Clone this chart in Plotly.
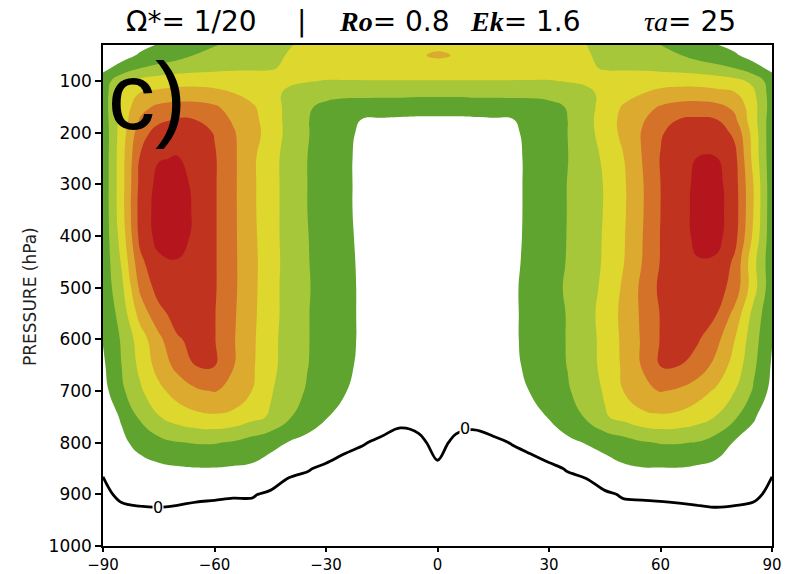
import plotly.graph_objects as go

# Zonal-mean zonal wind (m/s) on a latitude / pressure grid
lat = list(range(-90, 91, 5))
pressure = [30, 50, 75, 100, 125, 150, 175, 200, 250, 300, 350, 400, 450,
            500, 550, 600, 650, 700, 750, 800, 850, 900, 950, 1000]

# one row per pressure level, columns run from 90S to 90N
u_p030 = [2, 5, 8, 10.5, 13, 16, 19.5, 22, 24.5, 27, 29.5, 31.5, 33, 34, 35, 36, 37, 38, 38.5,
          38, 37, 36, 35, 34, 33, 31.5, 30.1, 27.5, 25, 22.5, 20, 16.5, 13, 10.3, 8, 5, 2]
u_p050 = [3, 7, 11, 14, 17, 20.5, 23, 25, 26.5, 28, 30.5, 33, 35, 36, 37, 38, 38.5, 39.3, 41,
          39.6, 38.5, 38, 37, 36, 35, 33, 30.8, 28, 26.5, 25, 23, 20.5, 17, 14, 11, 7, 3]
u_p075 = [8, 13, 20, 23, 25, 26.5, 27.5, 28.5, 29, 29.5, 31, 33.5, 35, 35.5, 36, 36.5, 36.5, 37, 37,
          37, 36.5, 36.5, 36, 35.5, 35, 33.5, 31, 29.5, 29, 28.5, 27.5, 26.5, 25, 23, 20, 13, 8]
u_p100 = [14, 28, 33, 35, 36.5, 37, 37, 36, 34.5, 33, 31.5, 30.5, 29.5, 29.5, 29.5, 29.5, 29.5, 29.5, 29.5,
          29.5, 29.5, 29.5, 29.5, 29.5, 29.5, 30.5, 31.5, 33, 34.5, 36, 37, 37, 36.5, 35, 33, 28, 14]
u_p125 = [15, 32, 41, 43, 44, 44, 42.5, 40.5, 37, 33, 28, 24, 22.5, 22, 22, 22, 22, 21.5, 21.5,
          21.5, 22, 22, 22, 22, 22.5, 24, 27.5, 32.5, 36.5, 40, 42.5, 44, 44.5, 43.5, 41.5, 32, 15]
u_p150 = [15, 33, 47, 52, 54, 54, 51.5, 46, 41.5, 35, 27, 21, 18, 16, 15.5, 15, 15, 15, 15,
          15, 15, 15, 15.5, 16, 17.5, 20.5, 26, 34, 41, 46, 51, 54, 54.5, 53, 48, 34, 15]
u_p175 = [14, 34, 51, 58, 61, 60, 55, 49, 43, 35.5, 27, 20.5, 15.5, 12.5, 9.5, 9, 8.5, 8, 8,
          8, 8.5, 9, 9.5, 12.5, 15.5, 20, 26.5, 35, 42.5, 49, 55, 60.5, 61.5, 60.5, 52, 34, 14]
u_p200 = [13, 35, 56, 64, 66, 64, 59.5, 51, 44, 36, 27, 20.5, 16, 12, 8.5, 6.5, 6, 5.5, 5.5,
          5.5, 6, 6.5, 8.5, 12, 15.5, 20, 26.5, 34, 42.5, 50.5, 59, 64, 66.5, 65, 58, 36, 13]
u_p250 = [13, 36, 61, 69.5, 70.5, 67, 61, 52, 42, 34, 26, 20, 15.5, 11.5, 8, 6, 5.5, 5, 5,
          5, 5.5, 6, 8, 11.5, 15, 19.8, 25.5, 31.5, 39.5, 50, 60.5, 66.5, 70.3, 70.5, 63, 37, 13]
u_p300 = [13, 36, 63, 73, 73.5, 68, 61, 52, 42, 34, 26, 20, 15.5, 11.5, 8, 6, 5, 4.5, 4.5,
          4.5, 5, 6, 8, 11.5, 15.5, 20.2, 25.5, 30.5, 38.5, 49, 60, 66.5, 72, 73.5, 64, 40, 13]
u_p350 = [13, 36, 64, 74, 74.5, 68.5, 61, 52, 42, 34, 26, 20, 15.5, 11.5, 8, 6, 5, 4.5, 4.5,
          4.5, 5, 6, 8, 11.5, 15.5, 20.2, 25.5, 30.5, 38.5, 49, 60, 66.5, 72.5, 74, 64.5, 40, 13]
u_p400 = [13, 34, 63, 73.5, 74, 68, 61, 52, 42.5, 34, 26, 20.3, 15.8, 11.8, 8.2, 6, 5, 4.5, 4.5,
          4.5, 5, 6, 8.2, 11.5, 15.7, 20.3, 25.8, 30.8, 39, 49.5, 60.3, 66.5, 72, 73.5, 63.5, 38, 13]
u_p450 = [13, 31, 57.5, 68, 69.5, 67, 61, 52, 43, 34, 26.5, 20.5, 16, 12.2, 8.4, 6, 5, 4.5, 4.5,
          4.5, 5, 6, 8.4, 11.8, 16, 20.5, 26, 31, 39.5, 50, 60.5, 66, 69.5, 68.5, 58, 33, 13]
u_p500 = [13, 27.5, 52, 64, 67.5, 65.5, 61, 52, 43, 33.5, 26.5, 20.8, 16, 12.5, 8.5, 6, 5, 4.5, 4.5,
          4.5, 5, 6, 8.6, 12.5, 16.5, 21.2, 26.2, 32, 41.5, 52, 62, 65.5, 67, 64.5, 56, 34, 13]
u_p550 = [11.5, 24, 44, 57, 64, 65, 60.5, 51.5, 42.5, 33.5, 26.5, 20.5, 16, 12.5, 8.5, 6, 5, 4.5, 4.5,
          4.5, 5, 6, 8.5, 12.5, 16, 20.5, 26.5, 33.5, 42.5, 51.5, 60.5, 65, 64.5, 60.5, 47, 27, 11.5]
u_p600 = [10.5, 21, 35, 47.5, 59, 62.5, 60.5, 51, 42, 33, 26, 20.5, 16, 12.5, 8.5, 6, 5, 4.5, 4.5,
          4.5, 5, 6, 8.5, 12.5, 16, 20.5, 26, 33, 42, 51, 60.5, 62.5, 61, 53, 40, 24, 10.5]
u_p650 = [8.5, 20, 32.5, 44, 53, 60.3, 60.5, 50.5, 41.5, 33, 25.5, 20.3, 15.5, 12, 8, 6, 5, 4.5, 4.5,
          4.5, 5, 6, 8, 12, 15.5, 20.3, 25.5, 33, 41.5, 50.5, 60.5, 60.3, 56, 47, 36, 22, 9]
u_p700 = [6.5, 18, 28.5, 37.5, 44, 48.5, 50.5, 48, 40, 31, 24.5, 19, 14, 10.5, 7, 5.5, 4.5, 4.5, 5,
          4.5, 4.5, 5.5, 7, 10.3, 14, 19, 24.5, 31, 40, 48, 50.5, 48.5, 44, 38.5, 30, 19, 7]
u_p750 = [4.5, 11, 21.5, 29.5, 34.5, 37.5, 38.5, 37, 33, 29, 21, 15.5, 10.5, 7, 5, 3, 1.5, 2.2, 4.5,
          2.3, 1.8, 3, 5, 7, 10.5, 15.5, 21, 29, 33, 37, 38.5, 37.5, 34.5, 29.5, 21.5, 11, 4.5]
u_p800 = [2.5, 8, 13, 17, 19.5, 20.5, 20.5, 19, 16, 13, 9.5, 7, 5, 1.5, 0.3, -1, -2, -1.2, 1.7,
          -1.2, -1.8, -1, 0.2, 1.5, 5, 8, 10.5, 13.5, 16, 19, 20.5, 20.5, 19.5, 15.5, 9, 6.5, 2.5]
u_p850 = [0.8, 4, 6.5, 8, 9, 9.6, 9.6, 9, 8.5, 5.5, 2.5, 0.5, -1.3, -2, -2.5, -3, -3.5, -3, -0.8,
          -3, -3.5, -3, -2.4, -2, -1.5, 0.5, 2.5, 5.5, 8.5, 9.5, 9.6, 9.6, 8.5, 7, 5, 3.5, 0.8]
u_p900 = [-1.7, 1.5, 2.3, 2.5, 2.2, 1.7, 1.2, 0.6, 0.5, -1, -4.5, -3.5, -4, -4.5, -4.5, -4.5, -4.5, -4.5, -3.5,
          -4.5, -4.5, -4.5, -4.5, -4.5, -4, -3.5, -4, -1, 0.6, 1, 1.3, 1.7, 2.2, 2.5, 2.2, 1.5, -1.7]
u_p950 = [-4, -3.2, -2.7, -2.5, -3, -4, -4, -3.5, -3, -4, -6, -6, -6, -6, -6, -6, -6, -6, -5,
          -6, -6, -6, -6, -6, -6, -6, -6, -4, -3, -3.5, -3.5, -3.3, -3, -2.5, -2.8, -3.5, -4]
u_p1000 = [-6, -5, -5, -5, -5, -5.5, -5.5, -5.5, -5.5, -6, -7, -7, -7, -7, -7, -7, -7, -7, -6,
           -7, -7, -7, -7, -7, -7, -7, -7, -6, -5.5, -5.5, -5.5, -5.5, -5, -5, -5, -5, -6]

u_wind = [u_p030, u_p050, u_p075, u_p100, u_p125, u_p150, u_p175, u_p200, u_p250,
          u_p300, u_p350, u_p400, u_p450, u_p500, u_p550, u_p600, u_p650, u_p700,
          u_p750, u_p800, u_p850, u_p900, u_p950, u_p1000]

lat_ticks = [-90, -60, -30, 0, 30, 60, 90]
p_ticks = [100, 200, 300, 400, 500, 600, 700, 800, 900, 1000]

# shading: white below 10, then 10 m/s bands up to the jet cores
band_colors = ["#ffffff", "#5fa42f", "#a7c73a", "#ded72e",
               "#dcaa2e", "#d4722a", "#c0341f", "#b5161d"]
n = len(band_colors)
colorscale = []
for i, c in enumerate(band_colors):
    colorscale.append([i / n, c])
    colorscale.append([(i + 1) / n, c])

fig = go.Figure()
fig.add_trace(go.Contour(
    x=lat, y=pressure, z=u_wind,
    autocontour=False,
    contours=dict(start=10, end=80, size=10, coloring="fill", showlines=False),
    colorscale=colorscale, showscale=False,
    line=dict(width=0, smoothing=1.3),
    hoverinfo="skip",
))
# zero-wind line
fig.add_trace(go.Contour(
    x=lat, y=pressure, z=u_wind,
    autocontour=False,
    contours=dict(start=0, end=0.5, size=1, coloring="none"),
    line=dict(color="black", width=2.8, smoothing=1.0),
    showscale=False, hoverinfo="skip",
))

L, R, T, B = 103, 14, 45, 28
W, H = 786, 574
pw, ph = W - L - R, H - T - B


def px(x):
    return (x - L) / pw


def py(y):
    return (H - B - y) / ph


sans = "DejaVu Sans"
serif = "Liberation Serif"
annotations = []


def add_text(text, x, y, size, xanchor="left", family=sans, angle=0, color="black"):
    annotations.append(dict(text=text, x=px(x), y=py(y), xref="paper", yref="paper",
                            xanchor=xanchor, yanchor="middle", showarrow=False,
                            textangle=angle, font=dict(family=family, size=size, color=color)))


def it(s, bold=False):
    s = f"<i><span style='font-family:{serif}'>{s}</span></i>"
    return f"<b>{s}</b>" if bold else s


# title pieces
ts = 28
ty = 21
add_text("Ω*= 1/20", 124, ty, ts)
add_text("|", 301, ty, ts, xanchor="center")
add_text(it("Ro", True) + "= 0.8", 337, ty, ts)
add_text(it("Ek", True) + "= 1.6", 468, ty, ts)
add_text(it("τa") + "= 25", 642, ty, ts)

add_text("PRESSURE (hPa)", 30, 297, 17, xanchor="center", angle=-90, color="#222222")
add_text("c)", 106, 96, 94, family="Liberation Sans")

# labels on the zero line
for lx, ly in [(-75.2, 925), (7.4, 772)]:
    annotations.append(dict(text="0", x=lx, y=ly, xref="x", yref="y", showarrow=False,
                            bgcolor="white", borderpad=0,
                            font=dict(family=sans, size=16, color="black")))

axis_common = dict(showline=True, mirror=True, linecolor="black", linewidth=1.5,
                   ticks="outside", tickwidth=1.5, tickcolor="black",
                   showgrid=False, zeroline=False, automargin=False)

fig.update_layout(
    width=W, height=H,
    margin=dict(l=L, r=R, t=T, b=B),
    paper_bgcolor="white", plot_bgcolor="white",
    xaxis=dict(range=[-90, 90], tickvals=lat_ticks, ticklen=4,
               tickfont=dict(family=sans, size=15, color="black"), **axis_common),
    yaxis=dict(range=[1000, 30], tickvals=p_ticks, ticklen=6,
               tickfont=dict(family=sans, size=17, color="black"), **axis_common),
    annotations=annotations,
    showlegend=False,
)

fig.write_html("out.html")
